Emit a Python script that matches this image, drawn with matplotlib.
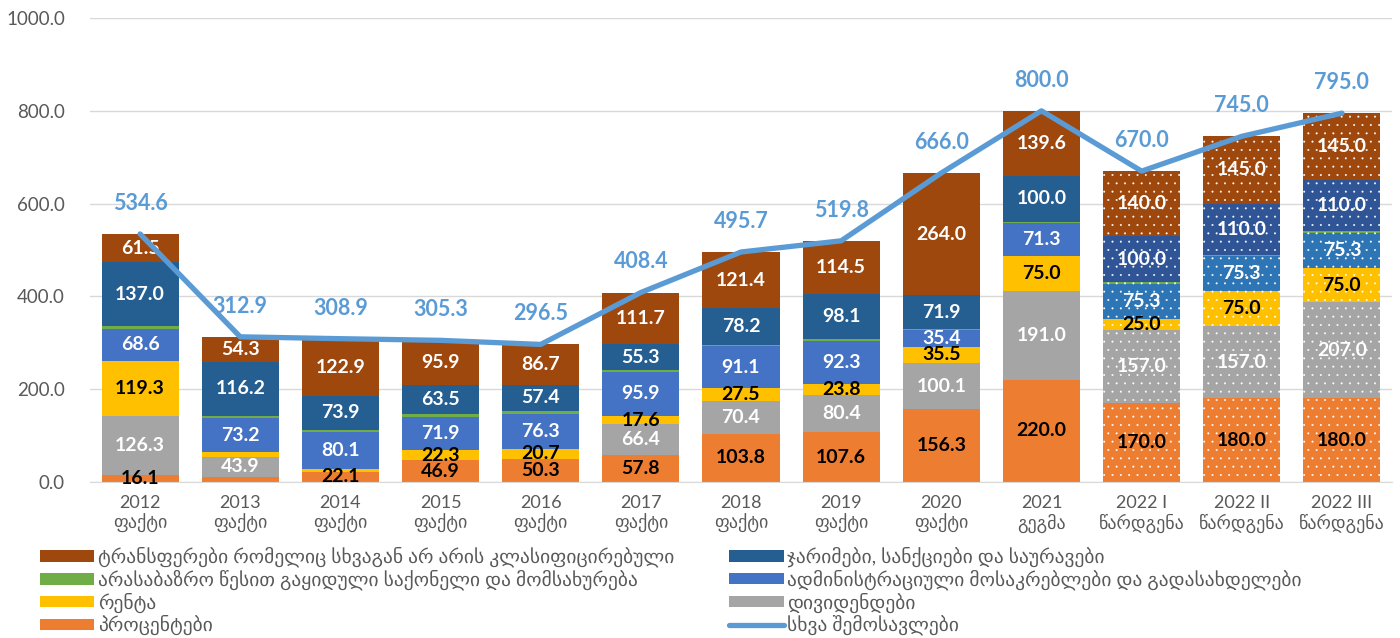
import matplotlib
matplotlib.use("Agg")
import matplotlib.pyplot as plt
import numpy as np

plt.rcParams['font.family'] = ['Lato', 'DejaVu Sans']
plt.rcParams['hatch.linewidth'] = 0.2

# --- data ---
years = ['2012\nფაქტი', '2013\nფაქტი', '2014\nფაქტი', '2015\nფაქტი', '2016\nფაქტი',
         '2017\nფაქტი', '2018\nფაქტი', '2019\nფაქტი', '2020\nფაქტი', '2021\nგეგმა',
         '2022 I\nწარდგენა', '2022 II\nწარდგენა', '2022 III\nწარდგენა']

interest = [16.1, 11.0, 22.1, 46.9, 50.3, 57.8, 103.8, 107.6, 156.3, 220.0, 170.0, 180.0, 180.0]
dividends = [126.3, 43.9, 0.0, 0.0, 0.0, 66.4, 70.4, 80.4, 100.1, 191.0, 157.0, 157.0, 207.0]
rent = [119.3, 9.5, 5.0, 22.3, 20.7, 17.6, 27.5, 23.8, 35.5, 75.0, 25.0, 75.0, 75.0]
admin = [68.6, 73.2, 80.1, 71.9, 76.3, 95.9, 91.1, 92.3, 35.4, 71.3, 75.3, 75.3, 75.3]
nonmarket = [5.8, 4.8, 4.9, 4.8, 5.1, 3.7, 3.3, 3.1, 2.8, 3.1, 2.7, 2.7, 2.7]
fines = [137.0, 116.2, 73.9, 63.5, 57.4, 55.3, 78.2, 98.1, 71.9, 100.0, 100.0, 110.0, 110.0]
transfers = [61.5, 54.3, 122.9, 95.9, 86.7, 111.7, 121.4, 114.5, 264.0, 139.6, 140.0, 145.0, 145.0]
total = [534.6, 312.9, 308.9, 305.3, 296.5, 408.4, 495.7, 519.8, 666.0, 800.0, 670.0, 745.0, 795.0]

forecast = [False] * 10 + [True] * 3

# series: (values, label, colour, colour for forecast bars, label text colour)
series = [
    (interest, 'პროცენტები', '#ED7D31', '#ED7D31', 'black'),
    (dividends, 'დივიდენდები', '#A5A5A5', '#A5A5A5', 'white'),
    (rent, 'რენტა', '#FFC000', '#FFC000', 'black'),
    (admin, 'ადმინისტრაციული მოსაკრებლები და გადასახდელები', '#4472C4', '#2E75B6', 'white'),
    (nonmarket, 'არასაბაზრო წესით გაყიდული საქონელი და მომსახურება', '#70AD47', '#70AD47', None),
    (fines, 'ჯარიმები, სანქციები და საურავები', '#255E91', '#2F5597', 'white'),
    (transfers, 'ტრანსფერები რომელიც სხვაგან არ არის კლასიფიცირებული', '#9E480E', '#9E480E', 'white'),
]

fig = plt.figure(figsize=(14, 6.38), dpi=100)
ax = fig.add_axes([90 / 1400, 1 - 482 / 638, 1302 / 1400, 464 / 638])

x = np.arange(len(years))
bottom = np.zeros(len(years))
handles = {}
for vals, name, col, col_f, tcol in series:
    vals = np.array(vals)
    for i in range(len(years)):
        if forecast[i]:
            b = ax.bar(x[i], vals[i], 0.77, bottom=bottom[i], color=col_f,
                       edgecolor='white', linewidth=0, hatch='..')
        else:
            b = ax.bar(x[i], vals[i], 0.77, bottom=bottom[i], color=col, linewidth=0)
        if i == 0:
            handles[name] = b
        if tcol is not None and vals[i] > 12:
            ax.text(x[i], bottom[i] + vals[i] / 2, f'{vals[i]:.1f}', ha='center', va='center',
                    color=tcol, fontsize=14, fontweight='bold')
    bottom += vals

line, = ax.plot(x, total, color='#5B9BD5', lw=3.8, solid_capstyle='round', zorder=5)
for i, v in enumerate(total):
    ax.annotate(f'{v:.1f}', (x[i], v), xytext=(0, 22), textcoords='offset points',
                ha='center', va='center', color='#5B9BD5', fontsize=15.5, fontweight='bold')

ax.set_xlim(-0.5, len(years) - 0.5)
ax.set_ylim(0, 1000)
ax.set_yticks(np.arange(0, 1001, 200))
ax.set_yticklabels([f'{t:.1f}' for t in np.arange(0, 1001, 200)])
ax.set_xticks(x)
ax.set_xticklabels(years)
ax.tick_params(axis='y', length=0, labelsize=13.5, labelcolor='#595959', pad=18)
ax.tick_params(axis='x', length=0, labelsize=13, labelcolor='#595959', pad=9)
ax.grid(axis='y', color='#D9D9D9', lw=1)
ax.set_axisbelow(True)
for s in ['top', 'right', 'left']:
    ax.spines[s].set_visible(False)
ax.spines['bottom'].set_color('#D9D9D9')

order = ['ტრანსფერები რომელიც სხვაგან არ არის კლასიფიცირებული',
         'არასაბაზრო წესით გაყიდული საქონელი და მომსახურება',
         'რენტა', 'პროცენტები',
         'ჯარიმები, სანქციები და საურავები',
         'ადმინისტრაციული მოსაკრებლები და გადასახდელები',
         'დივიდენდები']
h = [handles[n] for n in order] + [line]
lab = order + ['სხვა შემოსავლები']
fig.legend(h, lab, loc='upper left', bbox_to_anchor=(40 / 1400, 1 - 547 / 638), ncol=2,
           frameon=False, fontsize=14, handlelength=2.8, handleheight=0.52,
           handletextpad=0.2, labelspacing=0.12, columnspacing=2.8,
           labelcolor='#595959', borderaxespad=0, borderpad=0)

fig.savefig('out.png', dpi=100)
